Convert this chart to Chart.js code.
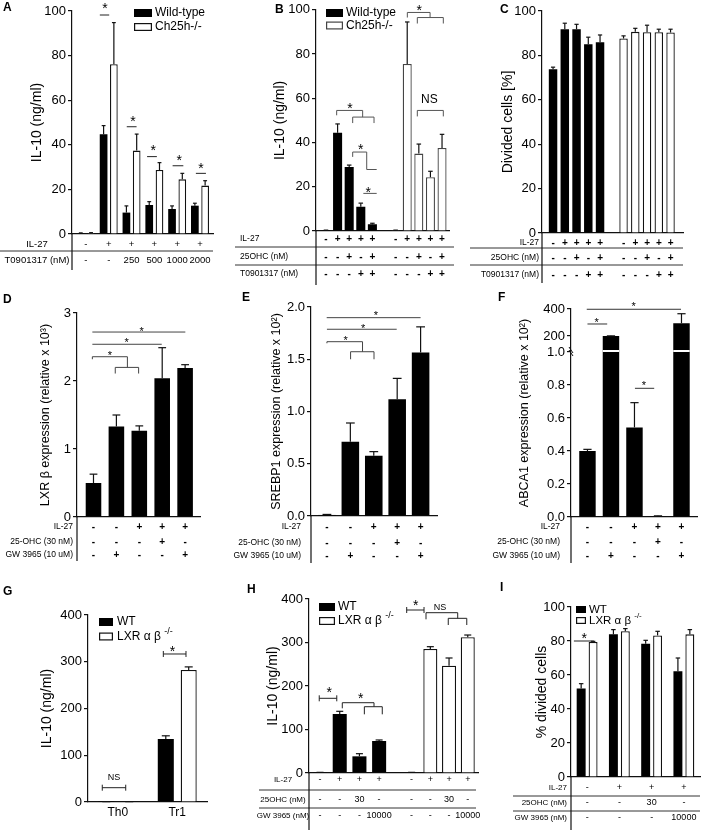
<!DOCTYPE html>
<html>
<head>
<meta charset="utf-8">
<script src="https://cdn.jsdelivr.net/npm/chart.js@4.4.0/dist/chart.umd.min.js"></script>
<style>
  body { margin: 0; background: #fff; }
  #page { position: relative; width: 708px; height: 830px; overflow: hidden; font-family: 'Liberation Sans', Arial, sans-serif; }
  #page canvas { position: absolute; }
  .lt { position: absolute; font-weight: bold; font-size: 12px; line-height: 12px; }
</style>
</head>
<body>
<div id="page"></div>
<script>
const FONT = "'Liberation Sans', Arial, Helvetica, sans-serif";
const BLACK = '#111';

// ---- A : IL-10, T0901317 titration
const il27A = ['-', '+', '+', '+', '+', '+'];
const doseA = ['-', '-', '250', '500', '1000', '2000'];
const wtA = [0.3, 44.7, 9.6, 13.0, 11.2, 12.7];
const wtErrA = [0.2, 3.9, 3.0, 1.5, 1.4, 1.1];
const koA = [0.4, 76.1, 37.4, 28.7, 24.5, 21.7];
const koErrA = [0.2, 18.7, 7.4, 3.3, 2.7, 2.2];

// ---- B / C : conditions shared by both genotypes
const il27B = ['-', '+', '+', '+', '+'];
const ohcB = ['-', '-', '+', '-', '+'];
const t09B = ['-', '-', '-', '+', '+'];
const wtB = [0.3, 44.4, 28.9, 11.0, 3.0];
const wtErrB = [0.1, 4.0, 0.9, 1.6, 0.5];
const koB = [0.3, 75.5, 35.0, 24.3, 37.5];
const koErrB = [0.1, 19.0, 4.3, 2.7, 6.2];
const wtC = [73.8, 91.8, 91.8, 85.0, 85.9];
const wtErrC = [0.9, 2.7, 2.2, 3.2, 3.3];
const koC = [87.6, 90.6, 90.4, 90.4, 90.3];
const koErrC = [1.2, 1.6, 3.2, 1.4, 1.5];

// ---- D / E / F : expression
const il27D = ['-', '-', '+', '+', '+'];
const ohcD = ['-', '-', '-', '+', '-'];
const gwD = ['-', '+', '-', '-', '+'];
const lxrbD = [0.50, 1.33, 1.27, 2.04, 2.19];
const lxrbErrD = [0.13, 0.17, 0.07, 0.45, 0.05];
const srebpE = [0.01, 0.71, 0.576, 1.117, 1.565];
const srebpErrE = [0.005, 0.18, 0.04, 0.2, 0.245];
const abcaF = [0.40, 200, 0.543, 0.005, 295];
const abcaErrF = [0.01, 1, 0.15, 0.002, 70];
const abcaTicksF = [0, 0.2, 0.4, 0.6, 0.8, 1.0, 200, 400];
const abcaBreakF = [1.0, 200];

// ---- G
const cellG = ['Th0', 'Tr1'];
const wtG = [0.5, 135];
const wtErrG = [0.3, 6.6];
const koG = [0.5, 282.6];
const koErrG = [0.3, 6.4];

// ---- H / I
const il27H = ['-', '+', '+', '+'];
const ohcH = ['-', '-', '30', '-'];
const gwH = ['-', '-', '-', '10000'];
const wtH = [1, 135.6, 38.3, 73.6];
const wtErrH = [0.5, 6.2, 6.1, 2.3];
const koH = [1, 285, 246.7, 311.9];
const koErrH = [0.5, 5.4, 17.7, 5.3];
const wtI = [52, 83.9, 78.4, 62.2];
const wtErrI = [2.9, 2.8, 2.0, 7.8];
const koI = [79.4, 85.7, 83.3, 83.9];
const koErrI = [0.4, 1.6, 2.4, 2.8];

// broken y axis for panel F (0..1.0 // 200..400)
class BrokenScale extends Chart.LinearScale {
  buildTicks() { return abcaTicksF.map(v => ({value: v})); }
  toDec(v) {
    const [lo, hi] = abcaBreakF, fl = 165 / 208, fg = 16 / 208;
    if (v <= lo) return v / lo * fl;
    if (v <= hi) return fl + (v - lo) / (hi - lo) * fg;
    return fl + fg + (v - hi) / (this.max - hi) * (1 - fl - fg);
  }
  getPixelForValue(v) { return this.getPixelForDecimal(this.toDec(v)); }
  getValueForPixel(p) { return this.getDecimalForPixel(p); }
}
BrokenScale.id = 'broken';
BrokenScale.defaults = Chart.LinearScale.defaults;
Chart.register(BrokenScale);

const page = document.getElementById('page');

function poly(ctx, pts) {
  ctx.beginPath();
  pts.forEach(([x, y], i) => i ? ctx.lineTo(x, y) : ctx.moveTo(x, y));
  ctx.stroke();
}

// error bars, legend, condition table, significance marks
function deco(box, s) {
  const [ox, oy] = box;
  return {
    id: 'deco',
    afterDatasetsDraw(chart) {
      const ctx = chart.ctx, xs = chart.scales.x, ys = chart.scales.y, a = chart.chartArea;
      const X = u => xs.getPixelForValue(u), Y = v => ys.getPixelForValue(v);
      const val = raw => (typeof raw === 'object' ? raw.y : raw);
      ctx.save();

      if (s.brk) {
        const yb = Y(abcaBreakF[0]) - 1;
        const ds = chart.data.datasets[0];
        ctx.strokeStyle = '#fff'; ctx.lineWidth = 2;
        chart.getDatasetMeta(0).data.forEach((bar, i) => {
          if (val(ds.data[i]) > abcaBreakF[0]) poly(ctx, [[bar.x - bar.width / 2, yb], [bar.x + bar.width / 2, yb]]);
        });
        ctx.strokeStyle = BLACK; ctx.lineWidth = 1;
        poly(ctx, [[a.left - 2, yb - 4], [a.left + 2, yb + 2]]);
        poly(ctx, [[a.left - 2, yb - 1], [a.left + 2, yb + 5]]);
      }

      ctx.strokeStyle = BLACK; ctx.lineWidth = 1.2;
      (s.err || []).forEach((errs, d) => {
        const ds = chart.data.datasets[d];
        chart.getDatasetMeta(d).data.forEach((bar, i) => {
          const top = Y(val(ds.data[i]) + errs[i]), cw = bar.width * 0.5;
          poly(ctx, [[bar.x, bar.y], [bar.x, top]]);
          poly(ctx, [[bar.x - cw / 2, top], [bar.x + cw / 2, top]]);
        });
      });

      if (s.legend) {
        const L = s.legend;
        chart.data.datasets.forEach((ds, d) => {
          const left = L.x - ox, top = L.y + d * L.dy - oy, cy = top + L.h / 2;
          ctx.fillStyle = ds.backgroundColor;
          ctx.fillRect(left, top, L.w, L.h);
          if (ds.borderWidth) {
            ctx.strokeStyle = ds.borderColor; ctx.lineWidth = 1.2;
            ctx.strokeRect(left + 0.6, top + 0.6, L.w - 1.2, L.h - 1.2);
          }
          ctx.fillStyle = '#000'; ctx.font = L.fs + 'px ' + FONT;
          ctx.textAlign = 'left'; ctx.textBaseline = 'middle';
          ctx.fillText(ds.label, L.tx - ox, cy);
          if (ds.sup) {
            const w = ctx.measureText(ds.label + ' ').width;
            ctx.font = Math.round(L.fs * 0.72) + 'px ' + FONT;
            ctx.fillText(ds.sup, L.tx - ox + w, cy - L.fs * 0.42);
          }
        });
      }

      if (s.table) {
        const t = s.table;
        ctx.fillStyle = '#000'; ctx.textBaseline = 'middle';
        t.rows.forEach(r => {
          ctx.font = t.lf + 'px ' + FONT; ctx.textAlign = t.la;
          ctx.fillText(r.label, t.lx - ox, r.y - oy);
          ctx.font = (t.vb ? 'bold ' : '') + t.vf + 'px ' + FONT; ctx.textAlign = 'center';
          r.vals.forEach((v, i) => ctx.fillText(v, X(t.cols[i]), r.y - oy));
        });
        ctx.strokeStyle = '#333'; ctx.lineWidth = 1;
        (t.lines || []).forEach(([y, x1, x2]) => poly(ctx, [[x1 - ox, y - oy], [x2 - ox, y - oy]]));
        ctx.strokeStyle = BLACK; ctx.lineWidth = 1.2;
        poly(ctx, [[a.left, a.bottom], [a.left, t.axisEnd - oy]]);
      }

      (s.sig || []).forEach(it => {
        ctx.strokeStyle = s.sigColor || '#333'; ctx.lineWidth = 1;
        if (it.p) poly(ctx, it.p.map(([u, v]) => [X(u), Y(v)]));
        if (it.c) {
          const [u1, u2, v] = it.c, y = Y(v);
          poly(ctx, [[X(u1), y], [X(u2), y]]);
          poly(ctx, [[X(u1), y - 3], [X(u1), y + 3]]);
          poly(ctx, [[X(u2), y - 3], [X(u2), y + 3]]);
        }
        if (it.t) {
          const fs = it.s || s.starSize || 14;
          ctx.fillStyle = '#000'; ctx.font = fs + 'px ' + FONT; ctx.textAlign = 'center';
          if (it.t === '*') { ctx.textBaseline = 'alphabetic'; ctx.fillText('*', X(it.x), Y(it.y) + fs * 0.57); }
          else { ctx.textBaseline = 'middle'; ctx.fillText(it.t, X(it.x), Y(it.y)); }
        }
      });
      ctx.restore();
    }
  };
}

function mkChart(box, area, spec) {
  const [bx, by, bw, bh] = box;
  const cv = document.createElement('canvas');
  cv.width = bw; cv.height = bh;
  Object.assign(cv.style, {left: bx + 'px', top: by + 'px', width: bw + 'px', height: bh + 'px'});
  page.appendChild(cv);
  const xH = spec.xH || 0, yW = area[0] - bx, tfs = spec.tfs || 14;
  const y = Object.assign({
    type: 'linear', position: 'left', min: spec.ymin, max: spec.ymax,
    afterFit: sc => { sc.width = yW; },
    border: {display: true, color: BLACK, width: 1.2},
    grid: {display: true, drawOnChartArea: false, drawTicks: true, tickLength: 4, color: BLACK, lineWidth: 1.2},
    ticks: {stepSize: spec.ystep, autoSkip: false, color: '#000', padding: 2, font: {family: FONT, size: 13}},
    title: {display: true, text: spec.ytitle, color: '#000', font: {family: FONT, size: tfs},
            padding: {top: spec.tx - bx - tfs * 0.6, bottom: 0}}
  }, spec.yextra || {});
  if (spec.yfmt) y.ticks.callback = spec.yfmt;
  const x = spec.xcat ? {
    type: 'category', offset: true,
    afterFit: sc => { sc.height = xH; },
    grid: {display: false, drawTicks: false},
    border: {display: true, color: BLACK, width: 1.2},
    ticks: {display: !!spec.xshow, color: '#000', padding: 3, font: {family: FONT, size: 12}}
  } : {
    type: 'linear', offset: false, min: spec.xmin, max: spec.xmax,
    afterFit: sc => { sc.height = 0; },
    afterBuildTicks: sc => { sc.ticks = []; },
    grid: {display: false, drawTicks: false},
    border: {display: true, color: BLACK, width: 1.2},
    ticks: {display: false}
  };
  return new Chart(cv, {
    type: 'bar',
    data: {labels: spec.labels, datasets: spec.datasets},
    options: {
      responsive: false, animation: false, events: [],
      layout: {padding: {left: 0, top: area[1] - by, right: bx + bw - area[2], bottom: by + bh - area[3] - xH}},
      plugins: {legend: {display: false}, tooltip: {enabled: false}},
      scales: {x, y}
    },
    plugins: [deco(box, spec)]
  });
}

const solid = (label, data, extra) => Object.assign({label, data, backgroundColor: '#000', borderColor: '#000', borderWidth: 0}, extra);
const hollow = (label, data, extra) => Object.assign({label, data, backgroundColor: '#fff', borderColor: BLACK, borderWidth: 1.3}, extra);
const pts = (pos, vals) => vals.map((v, i) => ({x: pos[i], y: v}));
const slots = (n, from) => Array.from({length: n}, (_, i) => i + (from || 0));

// A
mkChart([0, 0, 232, 285], [72, 11, 213, 234], {
  ymin: 0, ymax: 100, ystep: 20, ytitle: 'IL-10 (ng/ml)', tx: 37, xmin: -0.61, xmax: 5.57,
  datasets: [
    solid('Wild-type', pts(slots(6), wtA), {categoryPercentage: 0.9, barPercentage: 0.75}),
    hollow('Ch25h-/-', pts(slots(6), koA), {categoryPercentage: 0.9, barPercentage: 0.75})
  ],
  err: [wtErrA, koErrA],
  legend: {x: 134, y: 9, w: 18, h: 8, dy: 14, tx: 155, fs: 12},
  table: {cols: slots(6), lx: 37, la: 'center', lf: 9.5, vf: 9.5, axisEnd: 270,
          rows: [{label: 'IL-27', vals: il27A, y: 244}, {label: 'T0901317 (nM)', vals: doseA, y: 260}],
          lines: [[251, 0, 213]]},
  sigColor: '#222',
  sig: [
    {p: [[0.61, 98.2], [1.02, 98.2]]}, {t: '*', x: 0.83, y: 102.5},
    {p: [[1.79, 48.1], [2.22, 48.1]]}, {t: '*', x: 2.06, y: 51.9},
    {p: [[2.68, 34.7], [3.11, 34.7]]}, {t: '*', x: 2.95, y: 39.1},
    {p: [[3.80, 30.6], [4.27, 30.6]]}, {t: '*', x: 4.09, y: 34.7},
    {p: [[4.82, 27.2], [5.26, 27.2]]}, {t: '*', x: 5.04, y: 30.9}
  ]
});

// B
const colsBC = slots(5).concat(slots(5, 6));
mkChart([232, 0, 238, 285], [316, 9, 449, 231], {
  ymin: 0, ymax: 100, ystep: 20, ytitle: 'IL-10 (ng/ml)', tx: 280, xmin: -0.86, xmax: 10.6,
  datasets: [
    solid('Wild-type', pts(slots(5), wtB), {grouped: false, categoryPercentage: 1, barPercentage: 0.78}),
    hollow('Ch25h-/-', pts(slots(5, 6), koB), {grouped: false, categoryPercentage: 1, barPercentage: 0.78, borderColor: '#444'})
  ],
  err: [wtErrB, koErrB],
  legend: {x: 326, y: 9, w: 17, h: 8, dy: 12.5, tx: 346, fs: 12},
  table: {cols: colsBC, lx: 240, la: 'left', lf: 8.5, vf: 10, vb: true, axisEnd: 290,
          rows: [{label: 'IL-27', vals: il27B.concat(il27B), y: 239},
                 {label: '25OHC (nM)', vals: ohcB.concat(ohcB), y: 257},
                 {label: 'T0901317 (nM)', vals: t09B.concat(t09B), y: 274}],
          lines: [[247, 235, 454], [265, 235, 454]]},
  sigColor: '#555',
  sig: [
    {p: [[0.92, 52.3], [0.92, 54.5], [3.16, 54.5], [3.16, 51.5]]},
    {p: [[2.30, 48.8], [2.30, 51.5], [4.14, 51.5], [4.14, 48.8]]}, {t: '*', x: 2.07, y: 56.8},
    {p: [[2.30, 33.5], [2.30, 35.7], [3.51, 35.7], [3.51, 27.8], [4.37, 27.8]]}, {t: '*', x: 2.99, y: 38.4},
    {p: [[3.22, 17.0], [4.37, 17.0]]}, {t: '*', x: 3.65, y: 18.9},
    {p: [[7.01, 96.5], [7.01, 98.8], [8.97, 98.8], [8.97, 96.5]]},
    {p: [[7.87, 93.8], [7.87, 96.5], [10.11, 96.5], [10.11, 93.8]]}, {t: '*', x: 8.04, y: 101.4},
    {p: [[7.87, 51.8], [7.87, 54.5], [10.11, 54.5], [10.11, 51.8]]}, {t: 'NS', x: 8.91, y: 59.3, s: 12}
  ]
});

// C
mkChart([470, 0, 238, 285], [542, 11, 683, 233], {
  ymin: 0, ymax: 100, ystep: 20, ytitle: 'Divided cells [%]', tx: 508, xmin: -0.94, xmax: 11.06,
  datasets: [
    solid('Wild-type', pts(slots(5), wtC), {grouped: false, categoryPercentage: 1, barPercentage: 0.72}),
    hollow('Ch25h-/-', pts(slots(5, 6), koC), {grouped: false, categoryPercentage: 1, barPercentage: 0.72})
  ],
  err: [wtErrC, koErrC],
  table: {cols: colsBC, lx: 539, la: 'right', lf: 8.5, vf: 10, vb: true, axisEnd: 283,
          rows: [{label: 'IL-27', vals: il27B.concat(il27B), y: 243},
                 {label: '25OHC (nM)', vals: ohcB.concat(ohcB), y: 258},
                 {label: 'T0901317 (nM)', vals: t09B.concat(t09B), y: 275}],
          lines: [[248, 470, 683], [265, 470, 683]]}
});

// D / E / F share the same condition table
const tableDEF = (lx, ys, axisEnd) => ({
  cols: slots(5), lx, la: 'right', lf: 8.5, vf: 10, vb: true, axisEnd,
  rows: [{label: 'IL-27', vals: il27D, y: ys[0]},
         {label: '25-OHC (30 nM)', vals: ohcD, y: ys[1]},
         {label: 'GW 3965 (10 uM)', vals: gwD, y: ys[2]}]
});

mkChart([0, 285, 232, 285], [77, 313, 200, 517], {
  ymin: 0, ymax: 3, ystep: 1, ytitle: 'LXR β expression (relative x 10³)', tx: 46, tfs: 12.5,
  xmin: -0.72, xmax: 4.65,
  datasets: [solid('LXRb', pts(slots(5), lxrbD), {grouped: false, categoryPercentage: 1, barPercentage: 0.68})],
  err: [lxrbErrD],
  table: tableDEF(73, [527, 542, 555], 561),
  sigColor: '#444', starSize: 11,
  sig: [
    {p: [[-0.05, 2.72], [4.01, 2.72]]}, {t: '*', x: 2.1, y: 2.775},
    {p: [[-0.05, 2.54], [2.98, 2.54]]}, {t: '*', x: 1.45, y: 2.60},
    {p: [[-0.05, 2.32], [-0.05, 2.357], [1.48, 2.357], [1.48, 2.20]]},
    {p: [[0.95, 2.11], [0.95, 2.20], [1.97, 2.20], [1.97, 2.11]]}, {t: '*', x: 0.72, y: 2.42}
  ]
});

mkChart([232, 285, 238, 285], [311, 307, 437, 516], {
  ymin: 0, ymax: 2, ystep: 0.5, yfmt: v => v.toFixed(1), ytitle: 'SREBP1 expression (relative x 10²)', tx: 277, tfs: 12.5,
  xmin: -0.68, xmax: 4.7,
  datasets: [solid('SREBP1', pts(slots(5), srebpE), {grouped: false, categoryPercentage: 1, barPercentage: 0.75})],
  err: [srebpErrE],
  table: tableDEF(301, [527, 543, 556], 563),
  sigColor: '#444', starSize: 11,
  sig: [
    {p: [[-0.01, 1.898], [4.0, 1.898]]}, {t: '*', x: 2.09, y: 1.945},
    {p: [[0, 1.787], [2.98, 1.787]]}, {t: '*', x: 1.55, y: 1.821},
    {p: [[0, 1.653], [0, 1.668], [1.52, 1.668], [1.52, 1.572]]},
    {p: [[1.01, 1.50], [1.01, 1.572], [2.01, 1.572], [2.01, 1.50]]}, {t: '*', x: 0.80, y: 1.71}
  ]
});

mkChart([470, 285, 238, 285], [571, 309, 697, 517], {
  ymin: 0, ymax: 400, yextra: {type: 'broken'}, yfmt: v => (v >= 100 ? String(v) : v.toFixed(1)),
  ytitle: 'ABCA1 expression (relative x 10²)', tx: 525, tfs: 12.5,
  xmin: -0.7, xmax: 4.66,
  datasets: [solid('ABCA1', pts(slots(5), abcaF), {grouped: false, categoryPercentage: 1, barPercentage: 0.7})],
  err: [abcaErrF],
  brk: true,
  table: tableDEF(560, [527, 542, 556], 563),
  sigColor: '#333', starSize: 11,
  sig: [
    {p: [[-0.03, 398], [3.98, 398]]}, {t: '*', x: 1.96, y: 442},
    {p: [[0, 289], [0.84, 289]]}, {t: '*', x: 0.39, y: 324},
    {p: [[2.02, 0.78], [2.84, 0.78]]}, {t: '*', x: 2.40, y: 0.816}
  ]
});

// G
mkChart([0, 570, 232, 260], [88, 615, 207, 802], {
  ymin: 0, ymax: 400, ystep: 100, ytitle: 'IL-10 (ng/ml)', tx: 47,
  xcat: true, xshow: true, xH: 22, labels: cellG,
  datasets: [
    solid('WT', wtG, {categoryPercentage: 0.77, barPercentage: 0.7}),
    hollow('LXR α β', koG, {categoryPercentage: 0.77, barPercentage: 0.7, sup: '-/-'})
  ],
  err: [wtErrG, koErrG],
  legend: {x: 99, y: 618, w: 14, h: 8, dy: 14.5, tx: 117, fs: 12},
  sigColor: '#222',
  sig: [
    {c: [0.766, 1.147, 316.6]}, {t: '*', x: 0.92, y: 328.8},
    {c: [-0.26, 0.134, 30.6]}, {t: 'NS', x: -0.063, y: 52.8, s: 9}
  ]
});

// H
const posKoH = [4.65, 5.6, 6.55, 7.5];
mkChart([232, 570, 248, 260], [309, 599, 478, 773], {
  ymin: 0, ymax: 400, ystep: 100, ytitle: 'IL-10 (ng/ml)', tx: 273, xmin: -0.56, xmax: 8.02,
  datasets: [
    solid('WT', pts(slots(4), wtH), {grouped: false, categoryPercentage: 1, barPercentage: 0.75}),
    hollow('LXR α β', pts(posKoH, koH), {grouped: false, categoryPercentage: 1, barPercentage: 0.75, sup: '-/-'})
  ],
  err: [wtErrH, koErrH],
  legend: {x: 319, y: 603, w: 16, h: 8, dy: 14, tx: 338, fs: 12},
  table: {cols: slots(4).concat(posKoH), lx: 283, la: 'center', lf: 8, vf: 9, axisEnd: 830,
          rows: [{label: 'IL-27', vals: il27H.concat(il27H), y: 780},
                 {label: '25OHC (nM)', vals: ohcH.concat(ohcH), y: 800},
                 {label: 'GW 3965 (nM)', vals: gwH.concat(gwH), y: 816}],
          lines: [[790, 259, 476], [808, 259, 476]]},
  sigColor: '#222',
  sig: [
    {c: [-0.04, 0.85, 171.7]}, {t: '*', x: 0.47, y: 192.4},
    {p: [[1.13, 148.7], [1.13, 161.6], [2.74, 161.6], [2.74, 152.4]]},
    {p: [[2.25, 134.9], [2.25, 152.4], [3.16, 152.4], [3.16, 134.9]]}, {t: '*', x: 2.07, y: 179.3},
    {c: [4.40, 5.28, 374.7]}, {t: '*', x: 4.86, y: 393.8},
    {p: [[5.38, 353.3], [5.38, 368.5], [6.99, 368.5], [6.99, 355.6]]},
    {p: [[6.51, 340.2], [6.51, 355.6], [7.45, 355.6], [7.45, 340.2]]}, {t: 'NS', x: 6.09, y: 380, s: 9}
  ]
});

// I
mkChart([480, 570, 228, 260], [571, 607, 700, 777], {
  ymin: 0, ymax: 100, ystep: 20, ytitle: '% divided cells', tx: 542,
  xcat: true, labels: wtI.map((_, i) => String(i)),
  datasets: [
    solid('WT', wtI, {categoryPercentage: 0.74, barPercentage: 0.75}),
    hollow('LXR α β', koI, {categoryPercentage: 0.74, barPercentage: 0.75, sup: '-/-'})
  ],
  err: [wtErrI, koErrI],
  legend: {x: 576, y: 606, w: 10, h: 7, dy: 11, tx: 589, fs: 11.5},
  table: {cols: slots(4), lx: 567, la: 'right', lf: 8, vf: 9, axisEnd: 830,
          rows: [{label: 'IL-27', vals: il27H, y: 788},
                 {label: '25OHC (nM)', vals: ohcH, y: 803},
                 {label: 'GW 3965 (nM)', vals: gwH, y: 818}],
          lines: [[796, 513, 700], [811, 513, 700]]},
  sigColor: '#222',
  sig: [{p: [[-0.41, 80], [0.21, 80]]}, {t: '*', x: -0.09, y: 83.5}]
});

// panel letters
[['A', 3, 1], ['B', 275, 3], ['C', 500, 3], ['D', 3, 293], ['E', 242, 291], ['F', 498, 291],
 ['G', 3, 585], ['H', 247, 583], ['I', 500, 581]].forEach(([t, x, y]) => {
  const d = document.createElement('div');
  d.className = 'lt'; d.textContent = t;
  d.style.left = x + 'px'; d.style.top = y + 'px';
  page.appendChild(d);
});
</script>
</body>
</html>
